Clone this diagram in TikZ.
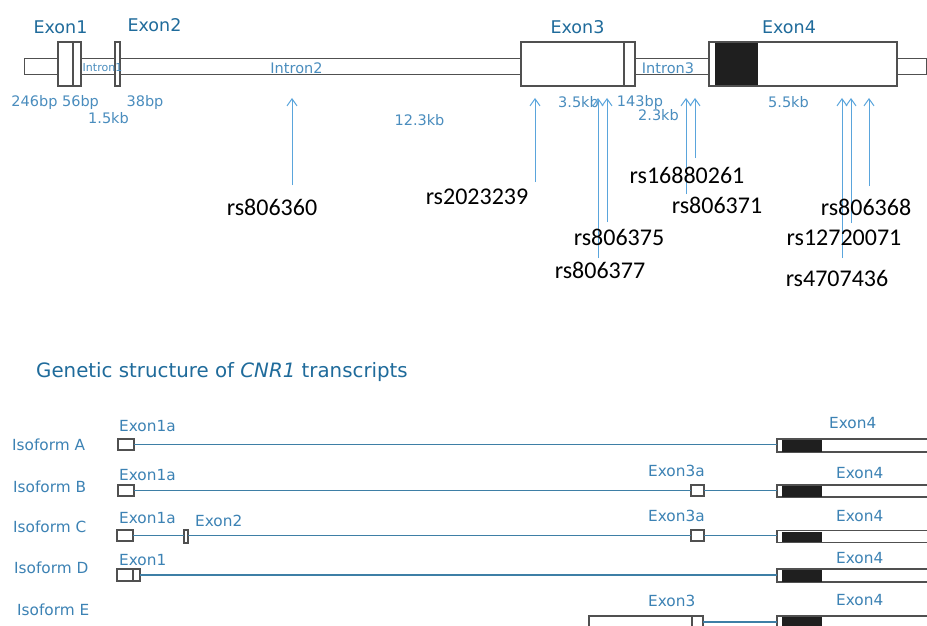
\documentclass[tikz,border=0pt]{standalone}
\usepackage{fontspec}
\setmainfont{DejaVu Sans}
\newfontfamily\rsfont{Carlito}
\usetikzlibrary{arrows.meta}
\definecolor{darkblue}{HTML}{1F6B9B}
\definecolor{midblue}{HTML}{4A8DBE}
\definecolor{isoblue}{HTML}{3C82B4}
\definecolor{arrowblue}{HTML}{5AA5DC}
\definecolor{lineblue}{HTML}{3E7FA6}
\definecolor{boxgray}{HTML}{505050}
\tikzset{
  exbox/.style={draw=boxgray, line width=1.1pt, fill=white, inner sep=0pt, outer sep=0pt},
  barbox/.style={draw=boxgray, line width=1pt, fill=white, inner sep=0pt, outer sep=0pt},
  title/.style={text=darkblue, inner sep=0pt, font=\fontsize{17.5}{20}\selectfont},
  sizelbl/.style={text=midblue, inner sep=0pt, font=\fontsize{14.5}{17}\selectfont},
  smalllbl/.style={text=midblue, inner sep=0pt, font=\fontsize{11}{13}\selectfont},
  isolbl/.style={text=isoblue, inner sep=0pt, anchor=west, font=\fontsize{15.3}{18}\selectfont},
  rslbl/.style={text=black, inner sep=0pt, font=\rsfont\fontsize{24}{28}\selectfont},
  snp/.style={draw=arrowblue, line width=1pt, -{Straight Barb[length=7pt,width=10pt]}},
  rowline/.style={draw=lineblue, line width=1.2pt},
  blackpart/.style={fill=black!88}
}
\begin{document}
\begin{tikzpicture}[x=1pt,y=-1pt]
\clip (0,0) rectangle (927,626);
\fill[white] (0,0) rectangle (927,626);
% ---------- top gene structure ----------
\node[barbox, minimum width=902pt, minimum height=16pt] (bar) at (475,67) {};
\node[exbox, minimum width=23pt, minimum height=44pt] (ex1) at (69.5,64) {};
\draw[boxgray, line width=1.1pt] (73,42) -- (73,86);
\node[exbox, minimum width=5pt, minimum height=44pt] (ex2) at (117.5,64) {};
\node[exbox, minimum width=114pt, minimum height=44pt] (ex3) at (578,64) {};
\draw[boxgray, line width=1.1pt] (624,42) -- (624,86);
\node[exbox, minimum width=188pt, minimum height=44pt] (ex4) at (803,64) {};
\fill[blackpart] (715,42.5) rectangle (758,85.5);
\draw[boxgray, line width=1.1pt] (709,42) rectangle (897,86);

\node[title] (t1) at (60.5,27) {Exon1};
\node[title] (t2) at (154.5,25) {Exon2};
\node[title] (t3) at (577.5,27) {Exon3};
\node[title] (t4) at (789,27) {Exon4};
\node[smalllbl] (i1) at (102.5,68) {Intron1};
\node[sizelbl] (i2) at (296.5,68) {Intron2};
\node[sizelbl] (i3) at (668,68) {Intron3};

\node[sizelbl] (s1) at (34.5,102.5) {246bp};
\node[sizelbl] (s2) at (80.5,102.5) {56bp};
\node[sizelbl] (s3) at (145,102.5) {38bp};
\node[sizelbl] (s4) at (108.5,118) {1.5kb};
\node[sizelbl] (s5) at (419.5,120) {12.3kb};
\node[sizelbl] (s6) at (578.5,102.5) {3.5kb};
\node[sizelbl] (s7) at (640,102.5) {143bp};
\node[sizelbl] (s8) at (658.5,115) {2.3kb};
\node[sizelbl] (s9) at (788.5,102.5) {5.5kb};

% SNP arrows
\coordinate (b1) at (292,185); \coordinate (h1) at (292,98);
\coordinate (b2) at (535,182); \coordinate (h2) at (535,98);
\coordinate (b3) at (598,258); \coordinate (h3) at (598,98);
\coordinate (b4) at (607,222); \coordinate (h4) at (607,98);
\coordinate (b5) at (686,194); \coordinate (h5) at (686,98);
\coordinate (b6) at (695,158); \coordinate (h6) at (695,98);
\coordinate (b7) at (842,258); \coordinate (h7) at (842,98);
\coordinate (b8) at (851,223); \coordinate (h8) at (851,98);
\coordinate (b9) at (869,186); \coordinate (h9) at (869,98);
\foreach \i in {1,...,9} {\draw[snp] (b\i) -- (h\i);}

\node[rslbl] (r1) at (272,207) {rs806360};
\node[rslbl] (r2) at (477,197) {rs2023239};
\node[rslbl] (r3) at (600,270) {rs806377};
\node[rslbl] (r4) at (619,237) {rs806375};
\node[rslbl] (r5) at (717,205) {rs806371};
\node[rslbl] (r6) at (687,175) {rs16880261};
\node[rslbl] (r7) at (837,278) {rs4707436};
\node[rslbl] (r8) at (844,238) {rs12720071};
\node[rslbl] (r9) at (866,207) {rs806368};

% ---------- transcripts ----------
\node[anchor=west, inner sep=0pt, text=darkblue, font=\fontsize{19.8}{23}\selectfont] (ttl) at (36,372) {Genetic structure of \textit{CNR1} transcripts};

\node[isolbl] (isoA) at (12,445) {Isoform A};
\node[isolbl] (isoB) at (13,487) {Isoform B};
\node[isolbl] (isoC) at (13,527) {Isoform C};
\node[isolbl] (isoD) at (14,568) {Isoform D};
\node[isolbl] (isoE) at (17,610) {Isoform E};

% Row A
\node[exbox, minimum width=16pt, minimum height=11pt] (A1) at (126,444.5) {};
\node[exbox, minimum width=158pt, minimum height=13pt] (A4) at (856,445.5) {};
\fill[blackpart] (782,439.5) rectangle (822,451.5);
\draw[rowline] (A1.east) -- (A1.east -| A4.west);
\node[isolbl] (lA1) at (119,426) {Exon1a};
\node[isolbl] (lA4) at (829,423) {Exon4};

% Row B
\node[exbox, minimum width=16pt, minimum height=11pt] (B1) at (126,490.5) {};
\node[exbox, minimum width=13pt, minimum height=11pt] (B3) at (697.5,490.5) {};
\node[exbox, minimum width=158pt, minimum height=12pt] (B4) at (856,491) {};
\fill[blackpart] (782,485.5) rectangle (822,496.5);
\draw[rowline] (B1.east) -- (B3.west);
\draw[rowline] (B3.east) -- (B3.east -| B4.west);
\node[isolbl] (lB1) at (119,475) {Exon1a};
\node[isolbl] (lB3) at (648,471) {Exon3a};
\node[isolbl] (lB4) at (836,473) {Exon4};

% Row C
\node[exbox, minimum width=16pt, minimum height=11pt] (C1) at (125,535.5) {};
\node[exbox, minimum width=4pt, minimum height=13pt] (C2) at (186,536.5) {};
\node[exbox, minimum width=13pt, minimum height=11pt] (C3) at (697.5,535.5) {};
\node[exbox, minimum width=158pt, minimum height=12pt] (C4) at (856,536.5) {};
\fill[blackpart] (782,531.5) rectangle (822,541.5);
\draw[rowline] (C1.east) -- (C1.east -| C2.west);
\draw[rowline] (C2.east |- C1.east) -- (C3.west);
\draw[rowline] (C3.east) -- (C3.east -| C4.west);
\node[isolbl] (lC1) at (119,518) {Exon1a};
\node[isolbl] (lC2) at (195,521) {Exon2};
\node[isolbl] (lC3) at (648,516) {Exon3a};
\node[isolbl] (lC4) at (836,516) {Exon4};

% Row D
\node[exbox, minimum width=23pt, minimum height=12pt] (D1) at (128.5,575) {};
\draw[boxgray, line width=1.1pt] (133,569) -- (133,581);
\node[exbox, minimum width=158pt, minimum height=13pt] (D4) at (856,575.5) {};
\fill[blackpart] (782,569.5) rectangle (822,581.5);
\draw[rowline] (D1.east) -- (D1.east -| D4.west);
\node[isolbl] (lD1) at (119,560) {Exon1};
\node[isolbl] (lD4) at (836,558) {Exon4};

% Row E
\node[exbox, minimum width=114pt, minimum height=12pt] (E3) at (646,622) {};
\draw[boxgray, line width=1.1pt] (692,616) -- (692,628);
\node[exbox, minimum width=158pt, minimum height=12pt] (E4) at (856,622) {};
\fill[blackpart] (782,616.5) rectangle (822,627.5);
\draw[rowline] (E3.east) -- (E4.west);
\node[isolbl] (lE3) at (648,601) {Exon3};
\node[isolbl] (lE4) at (836,600) {Exon4};
\end{tikzpicture}
\end{document}
